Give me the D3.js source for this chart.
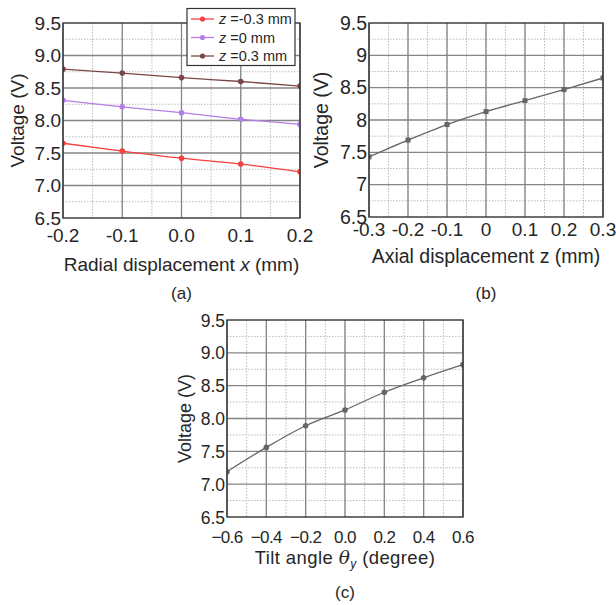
<!doctype html>
<html lang="en">
<head>
<meta charset="utf-8">
<title>Voltage vs displacement</title>
<style>
body { margin: 0; background: #fff; font-family: "Liberation Sans", Arial, sans-serif; }
svg text { fill: #262626; }
</style>
</head>
<body>
<div id="chart"></div>
<script src="https://cdnjs.cloudflare.com/ajax/libs/d3/7.8.5/d3.min.js"></script>
<script>
// (a) radial displacement
var radialX = [-0.2, -0.1, 0.0, 0.1, 0.2];
var zMinus = [7.65, 7.53, 7.42, 7.33, 7.21];
var zZero = [8.31, 8.21, 8.12, 8.02, 7.94];
var zPlus = [8.79, 8.73, 8.66, 8.60, 8.53];
var seriesNames = ["=-0.3 mm", "=0 mm", "=0.3 mm"];
var seriesColors = ["#f5413f", "#b47ee8", "#7a4747"];

// (b) axial displacement
var axialZ = [-0.3, -0.2, -0.1, 0.0, 0.1, 0.2, 0.3];
var axialV = [7.43, 7.69, 7.93, 8.13, 8.30, 8.47, 8.65];

// (c) tilt angle
var tiltT = [-0.6, -0.4, -0.2, 0.0, 0.2, 0.4, 0.6];
var tiltV = [7.19, 7.56, 7.89, 8.13, 8.40, 8.62, 8.82];

var yTicksA = ["6.5", "7.0", "7.5", "8.0", "8.5", "9.0", "9.5"];
var yTicksB = ["6.5", "7", "7.5", "8", "8.5", "9", "9.5"];
var xTicksA = ["-0.2", "-0.1", "0.0", "0.1", "0.2"];
var xTicksB = ["-0.3", "-0.2", "-0.1", "0", "0.1", "0.2", "0.3"];
var xTicksC = ["\u22120.6", "\u22120.4", "\u22120.2", "0.0", "0.2", "0.4", "0.6"];

var svg = d3.select("#chart").append("svg").attr("width", 616).attr("height", 605);

function panel(o) {
  var g = svg.append("g");
  var x = d3.scaleLinear().domain(o.xDom).range([o.l, o.r]);
  var y = d3.scaleLinear().domain([6.5, 9.5]).range([o.b, o.t]);
  var clipId = "clip" + o.id;
  svg.append("clipPath").attr("id", clipId).append("rect")
    .attr("x", o.l).attr("y", o.t).attr("width", o.r - o.l).attr("height", o.b - o.t);

  // minor grid
  var xMinor = d3.range(o.xDom[0] + o.xMinor, o.xDom[1] - 1e-9, o.xMinor);
  g.selectAll(".mx").data(xMinor).join("line")
    .attr("x1", d => x(d)).attr("x2", d => x(d)).attr("y1", o.t).attr("y2", o.b)
    .attr("stroke", "#bbb").attr("stroke-width", 1).attr("stroke-dasharray", "1.5,1.5");
  g.selectAll(".my").data(d3.range(6.75, 9.5, 0.5)).join("line")
    .attr("y1", d => y(d)).attr("y2", d => y(d)).attr("x1", o.l).attr("x2", o.r)
    .attr("stroke", "#bbb").attr("stroke-width", 1).attr("stroke-dasharray", "1.5,1.5");
  // major grid
  var xMajor = o.xTicks.map((t, i) => o.xDom[0] + i * (o.xDom[1] - o.xDom[0]) / (o.xTicks.length - 1));
  g.selectAll(".Mx").data(xMajor).join("line")
    .attr("x1", d => x(d)).attr("x2", d => x(d)).attr("y1", o.t).attr("y2", o.b)
    .attr("stroke", "#858585").attr("stroke-width", 1.3);
  var yMajor = d3.range(7, 9.5, 0.5);
  g.selectAll(".My").data(yMajor).join("line")
    .attr("y1", d => y(d)).attr("y2", d => y(d)).attr("x1", o.l).attr("x2", o.r)
    .attr("stroke", "#858585").attr("stroke-width", 1.3);

  // series
  var line = d3.line().x(d => x(d[0])).y(d => y(d[1])).curve(d3.curveMonotoneX);
  o.series.forEach(function (s) {
    var pts = s.x.map((v, i) => [v, s.y[i]]);
    var sg = g.append("g").attr("clip-path", "url(#" + clipId + ")");
    sg.append("path").datum(pts).attr("d", line).attr("fill", "none")
      .attr("stroke", s.color).attr("stroke-width", 1.3);
    if (s.square) {
      sg.selectAll("rect").data(pts).join("rect")
        .attr("x", d => x(d[0]) - 2.5).attr("y", d => y(d[1]) - 2.5)
        .attr("width", 5).attr("height", 5).attr("fill", s.color);
    } else {
      sg.selectAll("circle").data(pts).join("circle")
        .attr("cx", d => x(d[0])).attr("cy", d => y(d[1])).attr("r", 2.8).attr("fill", s.color);
    }
  });

  // frame
  g.append("rect").attr("x", o.l).attr("y", o.t).attr("width", o.r - o.l).attr("height", o.b - o.t)
    .attr("fill", "none").attr("stroke", "#333").attr("stroke-width", 1.4);

  // tick labels
  var yVals = d3.range(6.5, 9.51, 0.5);
  g.selectAll(".yl").data(o.yTicks).join("text")
    .attr("x", o.l - 2).attr("y", (d, i) => y(yVals[i]) + 6.5)
    .attr("text-anchor", "end").attr("font-size", o.fs).text(d => d);
  g.selectAll(".xl").data(o.xTicks).join("text")
    .attr("x", (d, i) => x(xMajor[i])).attr("y", o.xTickY)
    .attr("text-anchor", "middle").attr("font-size", o.xfs || o.fs)
    .attr("letter-spacing", o.ls || 0).text(d => d);

  // axis titles
  g.append("text").attr("transform", "translate(" + o.yTitleX + "," + ((o.t + o.b) / 2) + ") rotate(-90)")
    .attr("text-anchor", "middle").attr("dy", "0.35em").attr("font-size", o.yfs || o.fs).text("Voltage (V)");
  var xt = g.append("text").attr("x", (o.l + o.r) / 2 + (o.xTitleDx || 0)).attr("y", o.xTitleY)
    .attr("text-anchor", "middle").attr("font-size", o.tfs || o.fs);
  o.xTitle(xt);
  g.append("text").attr("x", (o.l + o.r) / 2).attr("y", o.capY)
    .attr("text-anchor", "middle").attr("font-size", 17).text(o.cap);
  return { g: g, x: x, y: y };
}

panel({
  id: "a", l: 63, r: 300, t: 23, b: 218, xDom: [-0.2, 0.2], xMinor: 0.05,
  xTicks: xTicksA, yTicks: yTicksA, fs: 19, xTickY: 242, yTitleX: 17, xTitleY: 271, capY: 299, cap: "(a)",
  xTitle: function (t) {
    t.append("tspan").text("Radial displacement ");
    t.append("tspan").attr("font-style", "italic").text("x");
    t.append("tspan").text(" (mm)");
  },
  series: [
    { x: radialX, y: zMinus, color: seriesColors[0] },
    { x: radialX, y: zZero, color: seriesColors[1] },
    { x: radialX, y: zPlus, color: seriesColors[2] }
  ]
});

// legend
var lg = svg.append("g");
lg.append("rect").attr("x", 187).attr("y", 8.5).attr("width", 108).attr("height", 57)
  .attr("fill", "#fff").attr("stroke", "#333").attr("stroke-width", 1.2);
seriesNames.forEach(function (n, i) {
  var yy = 19 + i * 18.5;
  lg.append("line").attr("x1", 191).attr("x2", 214).attr("y1", yy).attr("y2", yy)
    .attr("stroke", seriesColors[i]).attr("stroke-width", 1.3);
  lg.append("circle").attr("cx", 202.5).attr("cy", yy).attr("r", 2.6).attr("fill", seriesColors[i]);
  var t = lg.append("text").attr("x", 219).attr("y", yy + 5).attr("font-size", 14.5);
  t.append("tspan").attr("font-style", "italic").text("z");
  t.append("tspan").text(" " + n);
});

panel({
  id: "b", l: 369, r: 603, t: 23, b: 217, xDom: [-0.3, 0.3], xMinor: 0.05,
  xTicks: xTicksB, yTicks: yTicksB, fs: 19.5, xfs: 19, xTickY: 236, yTitleX: 321, xTitleY: 263, capY: 299, cap: "(b)",
  xTitle: function (t) { t.text("Axial displacement z (mm)"); },
  series: [{ x: axialZ, y: axialV, color: "#666", square: true }]
});

panel({
  id: "c", l: 227, r: 463, t: 320, b: 517, xDom: [-0.6, 0.6], xMinor: 0.1, ls: -0.6,
  xTicks: xTicksC, yTicks: yTicksA, fs: 17.5, xfs: 17, yfs: 18, tfs: 18.5, xTickY: 543, yTitleX: 185, xTitleY: 564, capY: 598, cap: "(c)",
  xTitle: function (t) {
    t.attr("letter-spacing", 0.4);
    t.append("tspan").text("Tilt angle ");
    t.append("tspan").attr("font-family", "'DejaVu Serif', serif").attr("font-style", "italic").text("\u03b8");
    t.append("tspan").attr("font-style", "italic").attr("font-size", 12).attr("dy", 4).text("y");
    t.append("tspan").attr("dy", -4).text(" (degree)");
  },
  series: [{ x: tiltT, y: tiltV, color: "#666", square: false }]
});
</script>
</body>
</html>
